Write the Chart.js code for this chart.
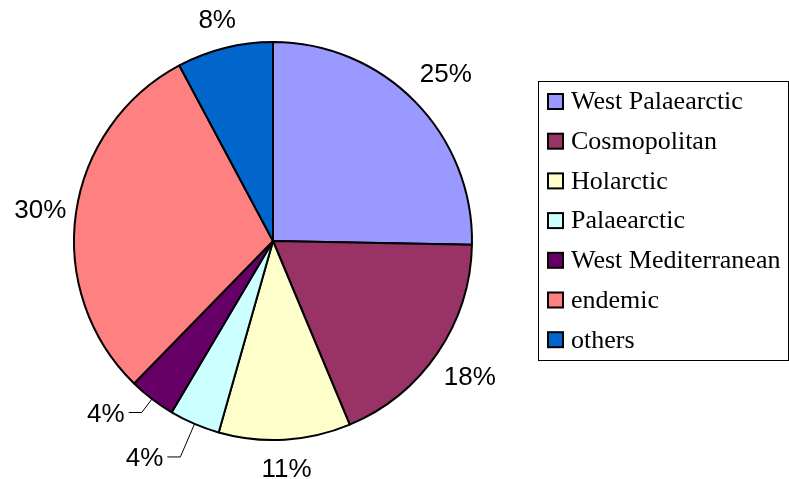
<!DOCTYPE html>
<html>
<head>
<meta charset="utf-8">
<script src="https://cdn.jsdelivr.net/npm/chart.js@4.4.1/dist/chart.umd.min.js"></script>
<style>
  html, body { margin: 0; padding: 0; background: #fff; }
  #grafica { display: block; }
</style>
</head>
<body>
<canvas id="grafica" width="789" height="479"></canvas>
<script>
// datos
const categorias = ['West Palaearctic', 'Cosmopolitan', 'Holarctic', 'Palaearctic', 'West Mediterranean', 'endemic', 'others'];
const valores = [25.3, 18.4, 10.7, 4.1, 3.8, 29.9, 7.8];
const colores = ['#9999ff', '#993366', '#ffffcc', '#ccffff', '#660066', '#ff8080', '#0066cc'];

// distancia de las etiquetas al centro (0 = usa linea guia)
const radioEtiqueta = [242, 238, 226, 0, 0, 235, 230];
const radioGuia = [0, 0, 0, 235, 216, 0, 0];

const etiquetasPlugin = {
    id: 'etiquetas',
    afterDatasetsDraw(chart) {
        const ctx = chart.ctx;
        const meta = chart.getDatasetMeta(0);
        const total = valores.reduce((a, b) => a + b, 0);
        ctx.save();
        ctx.font = '26px "Liberation Sans", Arial, sans-serif';
        ctx.fillStyle = '#000';
        ctx.strokeStyle = '#000';
        ctx.lineWidth = 1;
        meta.data.forEach((arc, i) => {
            const p = arc.getProps(['x', 'y', 'startAngle', 'endAngle', 'outerRadius'], true);
            const mid = (p.startAngle + p.endAngle) / 2;
            const cos = Math.cos(mid), sin = Math.sin(mid);
            const texto = Math.round(valores[i] / total * 100) + '%';
            ctx.textBaseline = 'middle';
            if (radioGuia[i]) {
                // linea guia para las porciones pequeñas
                const x0 = p.x + cos * p.outerRadius, y0 = p.y + sin * p.outerRadius;
                const x1 = p.x + cos * radioGuia[i], y1 = p.y + sin * radioGuia[i];
                const x2 = x1 - 13;
                ctx.beginPath();
                ctx.moveTo(x0, y0);
                ctx.lineTo(x1, y1);
                ctx.lineTo(x2, y1);
                ctx.stroke();
                ctx.textAlign = 'right';
                ctx.fillText(texto, x2 - 4, y1 + 2);
            } else {
                ctx.textAlign = 'center';
                ctx.fillText(texto, p.x + cos * radioEtiqueta[i], p.y + sin * radioEtiqueta[i] + 3);
            }
        });
        ctx.restore();
    }
};

// leyenda con marco, dibujada a mano
const leyendaPlugin = {
    id: 'leyenda',
    afterDraw(chart) {
        const ctx = chart.ctx;
        const ds = chart.data.datasets[0];
        ctx.save();
        ctx.strokeStyle = '#000';
        ctx.lineWidth = 1;
        ctx.strokeRect(538.5, 81.5, 250, 279);
        ctx.font = '26px "Liberation Serif", "Times New Roman", serif';
        ctx.textAlign = 'left';
        ctx.textBaseline = 'middle';
        chart.data.labels.forEach((lab, i) => {
            const y = 101.5 + i * 39.7;
            ctx.fillStyle = ds.backgroundColor[i];
            ctx.fillRect(548, y - 7.5, 15, 15);
            ctx.lineWidth = 2;
            ctx.strokeRect(548, y - 7.5, 15, 15);
            ctx.fillStyle = '#000';
            ctx.fillText(lab, 571, y + 1);
        });
        ctx.restore();
    }
};

new Chart(document.getElementById('grafica').getContext('2d'), {
    type: 'pie',
    data: {
        labels: categorias,
        datasets: [{
            data: valores,
            backgroundColor: colores,
            borderColor: '#000',
            borderWidth: 2
        }]
    },
    options: {
        responsive: false,
        animation: false,
        devicePixelRatio: 1,
        events: [],
        layout: { padding: { left: 73, right: 316, top: 41, bottom: 38 } },
        plugins: {
            legend: { display: false },
            tooltip: { enabled: false }
        }
    },
    plugins: [etiquetasPlugin, leyendaPlugin]
});
</script>
</body>
</html>
